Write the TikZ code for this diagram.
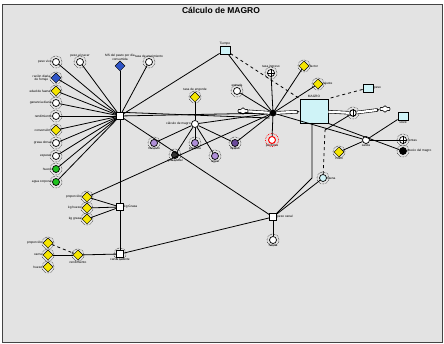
\documentclass[tikz,border=0pt]{standalone}
\usepackage{fontspec}
\setmainfont{Liberation Sans}
\usetikzlibrary{shapes.geometric,shapes.symbols,arrows.meta}
\definecolor{bg}{HTML}{E3E3E3}
\definecolor{frame}{HTML}{444444}
\definecolor{stockc}{HTML}{CFF3F7}
\definecolor{yel}{HTML}{F5E500}
\definecolor{blu}{HTML}{2F55C8}
\definecolor{grn}{HTML}{1EC21E}
\definecolor{pur}{HTML}{B08FD8}
\definecolor{dpur}{HTML}{6A4A9A}
\begin{document}
\begin{tikzpicture}[x=1pt,y=-1pt,
  aux/.style={circle,draw,fill=white,minimum size=7pt,inner sep=0pt,line width=0.7pt},
  cst/.style={diamond,draw,fill=yel,minimum size=10pt,inner sep=0pt,line width=0.5pt},
  bcst/.style={cst,fill=blu},
  gaux/.style={aux,fill=grn},
  paux/.style={aux,fill=pur},
  hub/.style={rectangle,draw,fill=white,minimum size=6.5pt,inner sep=0pt,line width=0.7pt},
  sbox/.style={rectangle,draw,fill=stockc,minimum width=10pt,minimum height=8pt,inner sep=0pt,line width=0.9pt},
  valve/.style={circle,draw,fill=black,minimum size=6.5pt,inner sep=0pt},
  src/.style={cloud,cloud puffs=6,draw,fill=white,minimum width=10pt,minimum height=6.5pt,inner sep=0pt,line width=0.6pt},
  conn/.style={line width=0.8pt},
  dconn/.style={line width=0.8pt,dash pattern=on 3pt off 3pt},
  pipe/.style={draw,double=white,double distance=2.2pt,line width=0.6pt},
  lab/.style={font=\fontsize{3.2}{3.6}\selectfont,inner sep=0.4pt,align=center},
  halo/.style={densely dotted,line width=0.5pt}]
\useasboundingbox (0,0) rectangle (444,344);
\fill[white] (0,0) rectangle (444,344);
\draw[fill=bg,draw=frame,line width=0.9pt] (2,4) rectangle (442,342);
\node[font=\fontsize{8.5}{9}\selectfont\bfseries] (title) at (221,10) {Cálculo de MAGRO};

% left column
\node[aux,label={[lab]left:peso vivo}] (L1) at (56,62) {};
\node[bcst,label={[lab]left:ración diaria\\de forraje}] (L2) at (56,78) {};
\node[cst,label={[lab]left:edad de faena}] (L3) at (56,91) {};
\node[aux,label={[lab]left:ganancia diaria}] (L4) at (56,103) {};
\node[aux,label={[lab]left:rendimiento}] (L5) at (56,116) {};
\node[cst,label={[lab]left:conversión}] (L6) at (56,130) {};
\node[aux,label={[lab]left:grasa dorsal}] (L7) at (56,143) {};
\node[aux,label={[lab]left:espesor}] (L8) at (56,156) {};
\node[gaux,label={[lab]left:hueso}] (L9) at (56,169) {};
\node[gaux,label={[lab]left:agua corporal}] (L10) at (56,182) {};
% top row
\node[aux,label={[lab]above:peso al nacer}] (T1) at (80,62) {};
\node[bcst,label={[lab]above:MS del pasto por día\\consumida}] (T2) at (120,66) {};
\node[aux,label={[lab]above:tasa de crecimiento}] (T3) at (149,62) {};
% hubs
\node[hub] (H1) at (120,116) {};
\node[hub,label={[lab]right:kg Grasa}] (H2) at (120,207) {};
\node[hub,label={[lab]below:canal caliente}] (H3) at (120,254) {};
\node[cst,label={[lab]left:proporción}] (Y1) at (87,197) {};
\node[cst,label={[lab]left:kg hueso}] (Y2) at (87,208) {};
\node[cst,label={[lab]left:kg grasa}] (Y3) at (87,219) {};
\node[cst,label={[lab]left:proporción}] (B1) at (48,243) {};
\node[cst,label={[lab]left:carne}] (B2) at (48,255) {};
\node[cst,label={[lab]left:hueso}] (B3) at (48,267) {};
\node[cst,label={[lab]below:rendimiento}] (B4) at (78,255) {};
\node[hub,label={[lab]right:peso canal}] (H4) at (273,217) {};
\node[aux,label={[lab]below:Salida}] (H4b) at (273,240) {};
% middle cluster
\node[aux,label={[lab]left:cálculo de magro}] (H5) at (195,124) {};
\node[cst,label={[lab]above:tasa de engorde}] (Y5) at (195,97) {};
\node[paux,label={[lab]below:músculo}] (P1) at (154,143) {};
\node[paux,label={[lab]below:proteína}] (P2) at (195,143) {};
\node[aux,fill=dpur,label={[lab]below:lípidos}] (P3) at (235,143) {};
\node[paux,label={[lab]below:agua}] (P4) at (215,156) {};
\node[aux,fill=black!80,label={[lab]below:grasa total}] (D1) at (175,155) {};
% top right
\node[sbox,label={[lab]above:Tiempo}] (TB) at (225,50) {};
\node[aux,label={[lab]above:tasa ingreso}] (OP) at (271,73) {};
\draw[line width=0.45pt] (OP.north)--(OP.south) (OP.west)--(OP.east);
\node[aux,label={[lab]above:entrada}] (A2) at (237,91) {};
\node[cst,label={[lab]right:factor}] (Y6) at (304,66) {};
\node[cst,label={[lab]right:ajuste}] (Y7) at (318,84) {};
\node[src] (C1) at (243,111) {};
\node[valve] (V1) at (273,113) {};
\node[rectangle,draw,fill=stockc,minimum width=28pt,minimum height=24pt,line width=0.9pt,label={[lab]above:MAGRO}] (S) at (314,111) {};
\node[circle,draw,fill=white,minimum size=6.5pt,inner sep=0pt,line width=0.9pt] (V2) at (353,113) {};
\draw[line width=0.9pt] (V2.north)--(V2.south);
\node[src] (C2) at (385,109) {};
\node[sbox,label={[lab]right:peso}] (RB1) at (368,88) {};
\node[sbox,label={[lab]below:stock}] (RB2) at (403,116) {};
\node[aux,draw=red,line width=1pt,label={[lab]below:pérdidas}] (R) at (272,140) {};
\node[aux,label={[lab]below:salida}] (N1) at (366,140) {};
\node[aux,label={[lab]right:ventas}] (OP2) at (403,140) {};
\draw[line width=0.45pt] (OP2.north)--(OP2.south) (OP2.west)--(OP2.east);
\node[aux,fill=black,label={[lab]right:precio del magro}] (D2) at (403,151) {};
\node[cst,label={[lab]below:costo}] (Y8) at (339,152) {};
\node[aux,fill=stockc,label={[lab]right:faena}] (N) at (323,178) {};
\coordinate (K) at (325,130);
\coordinate (M) at (312,178);
\coordinate (Sb) at (312,123);

% halos
\foreach \n in {L1,L2,L3,L4,L5,L6,L7,L8,L9,L10,T1,T3,Y1,Y2,Y3,B1,B2,B3,B4,H3,H4b,Y5,P1,P2,P3,P4,D1,OP,A2,Y6,Y7,OP2,D2,Y8,N,V2}
  \draw[halo] (\n) circle (6pt);
\draw[halo,red,line width=0.7pt] (R) circle (6.5pt);

% connectors
\foreach \n in {L1,L2,L3,L4,L5,L6,L7,L8,L9,L10,T1,T2,T3}
  \draw[conn] (\n) -- (H1);
\draw[conn] (H1) -- (H2) -- (H3);
\foreach \n in {Y1,Y2,Y3} \draw[conn] (\n) -- (H2);
\draw[conn] (Y1) -- (V1);
\draw[dconn,-{Stealth[length=2.5pt]}] (B1) -- (B4);
\draw[conn] (B2) -- (B4);
\draw[conn] (B4) -- (H3);
\draw[conn] (H3) -- (H4);
\draw[conn] (H1) -- (H4);
\draw[conn] (H4) -- (H4b);
\draw[conn] (H4) -- (M) -- (Sb);
\draw[conn] (H4) -- (N);
\draw[dconn] (N) -- (K);
\draw[conn] (K) -- (V2);
\draw[conn] (H1) -- (V1);
\draw[conn] (H1.north east) -- ([yshift=-5pt]V1.west);
\draw[conn] (TB) -- (H1);
\draw[conn] (TB) -- (V1);
\draw[dconn] (TB) -- (S.north west);
\draw[conn] (OP) -- (V1);
\draw[conn] (A2) -- (V1);
\draw[conn] (Y6) -- (V1);
\draw[conn] (Y7) -- (V1);
\draw[dconn] (RB1) -- (S.north east);
\draw[conn] (V1) -- (R);
\draw[conn] (Y5) -- (H5);
\foreach \n in {P1,P2,P3,P4,D1} \draw[conn] (H5) -- (\n);
\draw[conn] (H5) -- (V1);
\draw[conn] (P3) -- (V1);
\draw[conn] (V1) -- (N1);
\draw[conn] (S.south east) -- (D2);
\draw[conn] (N1) -- (RB2);
\draw[conn] (N1) -- (OP2);
\draw[conn] (Y8) -- (N1);
% flows
\draw[pipe] (C1) -- (V1);
\draw[pipe,-{Stealth[length=3pt]}] (V1) -- (S);
\draw[pipe] (S) -- (V2);
\draw[pipe,-{Stealth[length=3pt]}] (V2) -- (C2);
\end{tikzpicture}
\end{document}
